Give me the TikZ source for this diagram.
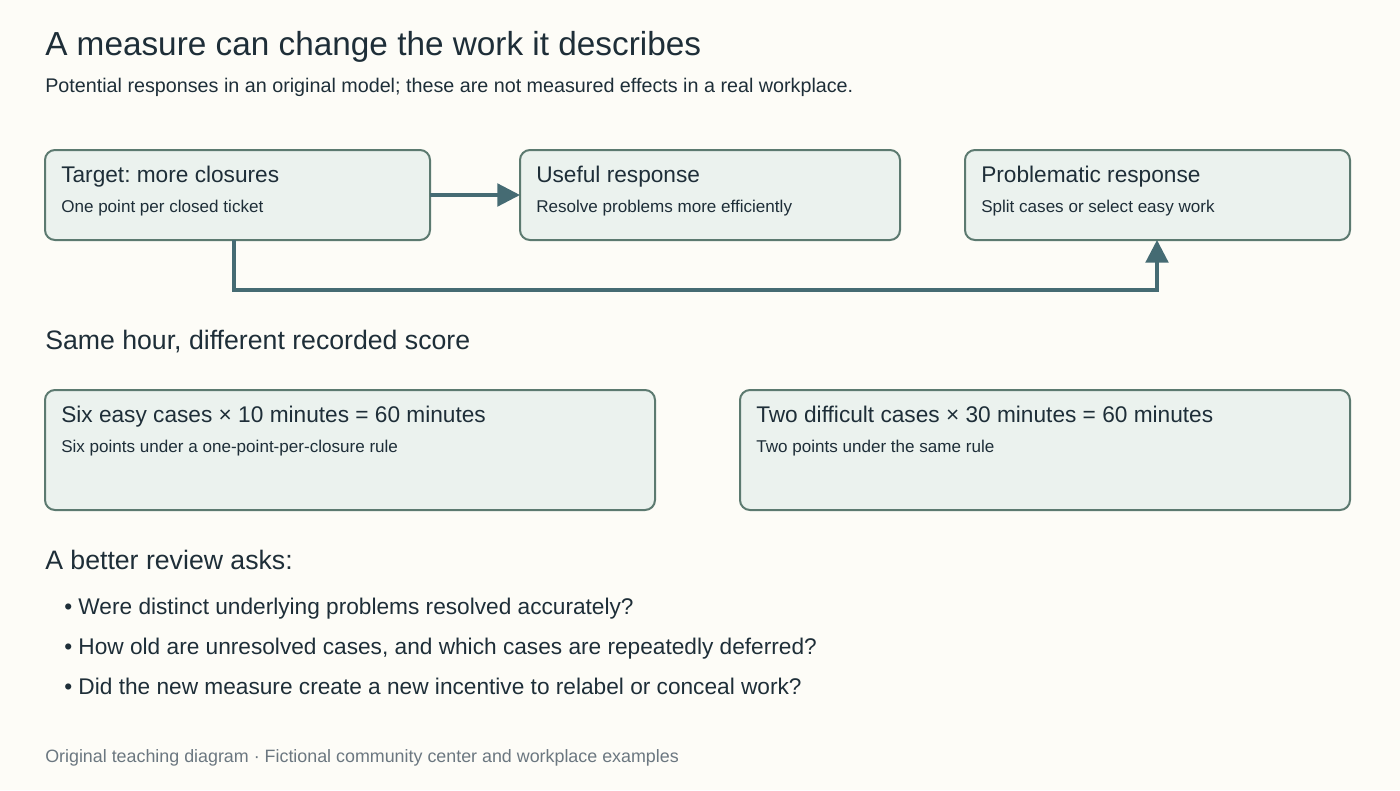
\documentclass[tikz,border=0pt]{standalone}
\usepackage{fontspec}
\setmainfont{Liberation Sans}
\usetikzlibrary{arrows.meta}
\definecolor{bg}{HTML}{FDFCF7}
\definecolor{boxf}{HTML}{EBF2EE}
\definecolor{boxd}{HTML}{5C7A70}
\definecolor{arr}{HTML}{456B73}
\definecolor{txt}{HTML}{1E2E38}
\definecolor{foot}{HTML}{6B7780}
\frenchspacing
\begin{document}
\begin{tikzpicture}[x=0.75pt,y=-0.75pt,
  box/.style={draw=boxd,fill=boxf,line width=1.5pt,rounded corners=7.5pt},
  t/.style={anchor=base west,inner sep=0pt,text=txt},
  bt/.style={t,font=\fontsize{17}{20}\selectfont},
  bs/.style={t,font=\fontsize{12.8}{15}\selectfont},
  con/.style={draw=arr,line width=2.4pt,-{Triangle[length=17pt,width=17pt]}}]
\fill[bg] (0,0) rectangle (1400,790);
\useasboundingbox (0,0) rectangle (1400,790);
\node[t,font=\fontsize{25}{29}\selectfont] (title) at (45,55) {A measure can change the work it describes};
\node[t,font=\fontsize{14.8}{17}\selectfont] (sub) at (45,92) {Potential responses in an original model; these are not measured effects in a real workplace.};
\draw[box] (45,150) rectangle (430,240) coordinate (b1);
\draw[box] (520,150) rectangle (900,240);
\draw[box] (965,150) rectangle (1350,240);
\node[bt] (b1t) at (61,182) {Target: more closures};
\node[bs] (b1s) at (61,212) {One point per closed ticket};
\node[bt] (b2t) at (536,182) {Useful response};
\node[bs] (b2s) at (536,212) {Resolve problems more efficiently};
\node[bt] (b3t) at (981,182) {Problematic response};
\node[bs] (b3s) at (981,212) {Split cases or select easy work};
\coordinate (a1s) at (430,195); \coordinate (a1e) at (520,195);
\coordinate (a2s) at (234,240); \coordinate (a2e) at (1157,240);
\draw[con] (a1s) -- (a1e);
\draw[con] (a2s) -- (234,290) -- (1157,290) -- (a2e);
\node[t,font=\fontsize{20}{23}\selectfont] (h2) at (45,349) {Same hour, different recorded score};
\draw[box] (45,390) rectangle (655,510);
\draw[box] (740,390) rectangle (1350,510);
\node[bt] (b4t) at (61,422) {Six easy cases × 10 minutes = 60 minutes};
\node[bs] (b4s) at (61,452) {Six points under a one-point-per-closure rule};
\node[bt] (b5t) at (756,422) {Two difficult cases × 30 minutes = 60 minutes};
\node[bs] (b5s) at (756,452) {Two points under the same rule};
\node[t,font=\fontsize{20}{23}\selectfont] (h3) at (45,569) {A better review asks:};
\node[t,font=\fontsize{17}{20}\selectfont] (q1) at (64,614) {• Were distinct underlying problems resolved accurately?};
\node[t,font=\fontsize{17}{20}\selectfont] (q2) at (64,654) {• How old are unresolved cases, and which cases are repeatedly deferred?};
\node[t,font=\fontsize{17}{20}\selectfont] (q3) at (64,694) {• Did the new measure create a new incentive to relabel or conceal work?};
\node[t,text=foot,font=\fontsize{13.4}{16}\selectfont] (ft) at (45,762) {Original teaching diagram · Fictional community center and workplace examples};
\end{tikzpicture}
\end{document}
